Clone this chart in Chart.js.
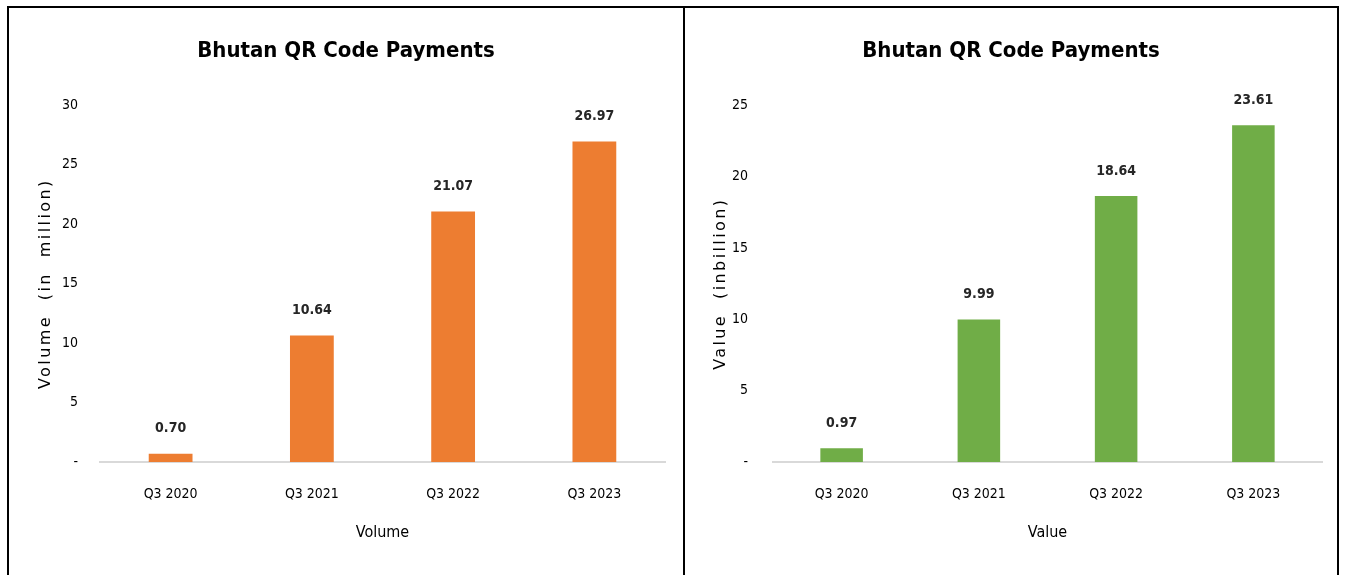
<!DOCTYPE html>
<html>
<head>
<meta charset="utf-8">
<script src="https://cdn.jsdelivr.net/npm/chart.js@4.4.1/dist/chart.umd.min.js"></script>
<style>
  html, body { margin: 0; padding: 0; background: #fff; width: 1347px; height: 575px; overflow: hidden; }
  .panel { position: absolute; border: 2px solid #000; box-sizing: border-box; background: #fff; }
  #p1 { left: 7px; top: 6px; width: 678px; height: 580px; }
  #p2 { left: 683px; top: 6px; width: 656px; height: 580px; }
  .wrap { position: absolute; left: 0; top: 0; }
  #w1 { width: 674px; height: 567px; }
  #w2 { width: 652px; height: 567px; }
</style>
</head>
<body>
<div class="panel" id="p1"><div class="wrap" id="w1"><canvas id="c1"></canvas></div></div>
<div class="panel" id="p2"><div class="wrap" id="w2"><canvas id="c2"></canvas></div></div>
<script>
const categories = ["Q3 2020", "Q3 2021", "Q3 2022", "Q3 2023"];
const volumeValues = [0.70, 10.64, 21.07, 26.97];
const valueValues = [0.97, 9.99, 18.64, 23.61];
const chartTitle = "Bhutan QR Code Payments";
const volumeAxisTitle = "Volume  (in  million)";
const valueAxisTitle = "Value  (inbillion)";
const volumeXTitle = "Volume";
const valueXTitle = "Value";

const NARROW = "'Liberation Sans Narrow', 'DejaVu Sans Condensed', 'Liberation Sans', sans-serif";
const WIDE = "'DejaVu Sans', 'Verdana', sans-serif";

const labelPlugin = {
  id: 'barLabels',
  beforeDraw(chart) {
    const s = chart.scales.y;
    if (s && !s._spaced) {
      const orig = s.drawTitle.bind(s);
      s.drawTitle = function () {
        chart.ctx.save();
        chart.ctx.letterSpacing = '2.4px';
        orig();
        chart.ctx.restore();
      };
      s._spaced = true;
    }
  },
  afterDatasetsDraw(chart) {
    const ctx = chart.ctx;
    ctx.save();
    ctx.font = "bold 14px " + NARROW;
    ctx.fillStyle = '#262626';
    ctx.textAlign = 'center';
    ctx.textBaseline = 'middle';
    chart.data.datasets.forEach((ds, di) => {
      chart.getDatasetMeta(di).data.forEach((bar, i) => {
        ctx.fillText(ds.data[i].toFixed(2), bar.x, bar.y - 25);
      });
    });
    ctx.restore();
  }
};

function makeChart(id, values, color, yMax, yTitle, xTitle, yWidth, yTickPad, yTitlePad, rightPad) {
  return new Chart(document.getElementById(id), {
    type: 'bar',
    data: {
      labels: categories,
      datasets: [{ data: values, backgroundColor: color, barPercentage: 0.62, categoryPercentage: 0.5 }]
    },
    options: {
      responsive: true,
      maintainAspectRatio: false,
      animation: false,
      layout: { padding: 0 },
      plugins: {
        legend: { display: false },
        tooltip: { enabled: false },
        title: {
          display: true,
          text: chartTitle,
          color: '#000',
          font: { family: NARROW, size: 22, weight: 'bold' },
          padding: { top: 30, bottom: 41 }
        }
      },
      scales: {
        x: {
          grid: { display: false, drawTicks: false },
          border: { display: true, color: '#d9d9d9', width: 2 },
          ticks: { color: '#000', font: { family: NARROW, size: 14 }, padding: 24, maxRotation: 0 },
          title: { display: true, text: xTitle, color: '#000', font: { family: NARROW, size: 16 }, padding: { top: 23, bottom: 33 } },
          afterFit(s) { s.height = 113; }
        },
        y: {
          min: 0, max: yMax,
          grid: { display: false, drawTicks: false },
          border: { display: false },
          ticks: {
            stepSize: 5, color: '#000', font: { family: NARROW, size: 14 }, padding: yTickPad,
            callback: v => v === 0 ? '-' : String(v)
          },
          title: { display: true, text: yTitle, color: '#000', font: { family: WIDE, size: 16 }, padding: { top: yTitlePad, bottom: 0 } },
          afterFit(s) { s.width = yWidth; }
        },
        spacer: {
          type: 'linear',
          position: 'right',
          display: true,
          grid: { display: false, drawTicks: false },
          border: { display: false },
          ticks: { display: false },
          afterFit(s) { s.width = rightPad; }
        }
      }
    },
    plugins: [labelPlugin]
  });
}

makeChart('c1', volumeValues, '#ED7D31', 30, volumeAxisTitle, volumeXTitle, 91, 22, 27, 18);
makeChart('c2', valueValues, '#70AD47', 25, valueAxisTitle, valueXTitle, 88, 25, 26, 15);
</script>
</body>
</html>
